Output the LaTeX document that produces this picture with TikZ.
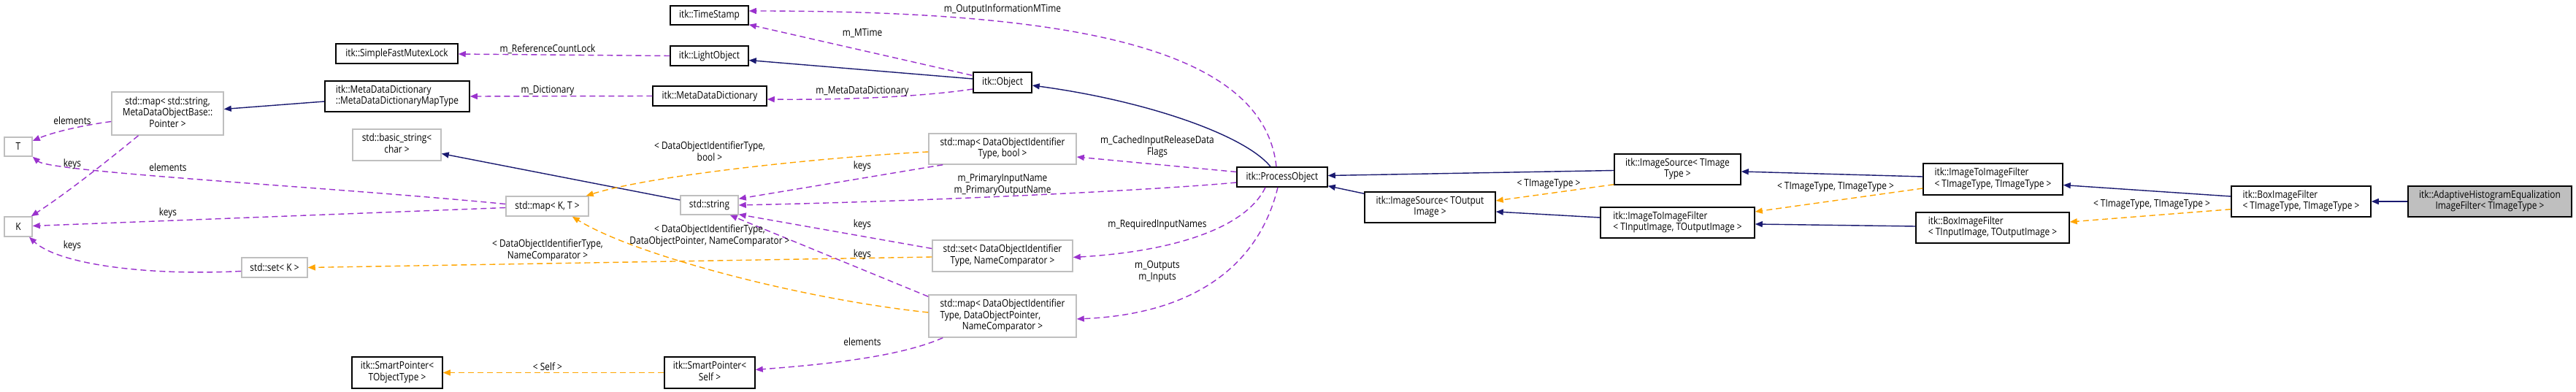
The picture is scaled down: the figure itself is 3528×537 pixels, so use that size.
\documentclass[tikz,border=0pt]{standalone}
\usepackage{fontspec}
\setmainfont[FakeStretch=0.85]{Open Sans}
\usetikzlibrary{arrows.meta,calc}
\definecolor{navy}{HTML}{191970}
\definecolor{purp}{HTML}{9A32CD}
\definecolor{orng}{HTML}{FFA500}
\definecolor{gry}{HTML}{BFBFBF}
\newcommand\ctab[1]{\begin{tabular}{@{}c@{}}#1\end{tabular}}
\newcommand\ltab[1]{\begin{tabular}{@{}l@{}}#1\end{tabular}}
\newcommand\mcc[1]{\multicolumn{1}{@{}c@{}}{#1}}
\begin{document}
\begin{tikzpicture}[x=1pt,y=-1pt,
  every node/.style={font=\fontsize{14}{15.5}\selectfont},
  doc/.style={draw=black, line width=1.5pt, fill=white, inner sep=0pt, rectangle},
  und/.style={draw=gry, line width=1.5pt, fill=white, inner sep=0pt, rectangle},
  lbl/.style={inner sep=0pt, align=center},
  inh/.style={draw=navy, line width=1.4pt, -{Triangle[length=10pt,width=8pt]}},
  use/.style={draw=purp, line width=1.4pt, dash pattern=on 8pt off 5pt, -{Triangle[length=10pt,width=8pt]}},
  tpl/.style={draw=orng, line width=1.4pt, dash pattern=on 8pt off 5pt, -{Triangle[length=10pt,width=8pt]}}]
\fill[white] (0,0) rectangle (3528,537);
\useasboundingbox (0,0) rectangle (3528,537);
% nodes
\node[doc, minimum width=167pt, minimum height=27pt] (sfml) at (543.5,73.5) {itk::SimpleFastMutexLock};
\node[doc, minimum width=198pt, minimum height=42pt] (mddmt) at (544,132) {\ltab{itk::MetaDataDictionary\\\mcc{::MetaDataDictionaryMapType}}};
\node[und, minimum width=153pt, minimum height=59pt] (mapSS) at (229.5,155.5) {\ctab{std::map< std::string,\\MetaDataObjectBase::\\Pointer >}};
\node[und, minimum width=38pt, minimum height=26pt] (T) at (25,201) {T};
\node[und, minimum width=38pt, minimum height=27pt] (K) at (25,310.5) {K};
\node[und, minimum width=121pt, minimum height=43pt] (bstr) at (543.5,198.5) {\ctab{std::basic\_string<\\char >}};
\node[und, minimum width=113pt, minimum height=27pt] (mapKT) at (749.5,282.5) {std::map< K, T >};
\node[und, minimum width=90pt, minimum height=27pt] (setK) at (376,366.5) {std::set< K >};
\node[doc, minimum width=124pt, minimum height=43pt] (spTO) at (544,510.5) {\ctab{itk::SmartPointer<\\TObjectType >}};
\node[doc, minimum width=107pt, minimum height=26pt] (ts) at (971.5,21) {itk::TimeStamp};
\node[doc, minimum width=107pt, minimum height=27pt] (lo) at (971.5,76.5) {itk::LightObject};
\node[doc, minimum width=156pt, minimum height=27pt] (mdd) at (972,131.5) {itk::MetaDataDictionary};
\node[doc, minimum width=80pt, minimum height=28pt] (obj) at (1373,113) {itk::Object};
\node[und, minimum width=202pt, minimum height=42pt] (mapB) at (1373,204) {\ctab{std::map< DataObjectIdentifier\\Type, bool >}};
\node[und, minimum width=79pt, minimum height=26pt] (str) at (971.5,281) {std::string};
\node[und, minimum width=192pt, minimum height=43pt] (setN) at (1373,350.5) {\ctab{std::set< DataObjectIdentifier\\Type, NameComparator >}};
\node[und, minimum width=202pt, minimum height=58pt] (mapP) at (1373,433) {\ltab{std::map< DataObjectIdentifier\\Type, DataObjectPointer,\\\mcc{NameComparator >}}};
\node[doc, minimum width=124pt, minimum height=43pt] (spS) at (972,510.5) {\ctab{itk::SmartPointer<\\Self >}};
\node[doc, minimum width=124pt, minimum height=27pt] (po) at (1756,242.5) {itk::ProcessObject};
\node[doc, minimum width=179pt, minimum height=42pt] (isO) at (1958.5,284) {\ctab{itk::ImageSource< TOutput\\Image >}};
\node[doc, minimum width=173pt, minimum height=42pt] (isT) at (2297.5,232) {\ctab{itk::ImageSource< TImage\\Type >}};
\node[doc, minimum width=211pt, minimum height=42pt] (itiIO) at (2297.5,305) {\ltab{itk::ImageToImageFilter\\< TInputImage, TOutputImage >}};
\node[doc, minimum width=191pt, minimum height=43pt] (itiT) at (2729.5,245.5) {\ltab{itk::ImageToImageFilter\\< TImageType, TImageType >}};
\node[doc, minimum width=210pt, minimum height=42pt] (bifIO) at (2729,312) {\ltab{itk::BoxImageFilter\\< TInputImage, TOutputImage >}};
\node[doc, minimum width=191pt, minimum height=42pt] (bifT) at (3151.5,276) {\ltab{itk::BoxImageFilter\\< TImageType, TImageType >}};
\node[doc, fill=gry, minimum width=224pt, minimum height=42pt] (ahe) at (3410,276) {\ctab{itk::AdaptiveHistogramEqualization\\ImageFilter< TImageType >}};
% inheritance
\draw[inh] ($(mddmt.west)+(0,7)$) -- ($(mapSS.east)+(0,-6)$);
\draw[inh] ($(str.west)+(0,-7)$) -- ($(bstr.east)+(0,12)$);
\draw[inh] ($(obj.west)+(0,-5)$) -- ($(lo.east)+(0,6)$);
\draw[inh] ($(po.north)+(-16,0)$) .. controls (1705,185) and (1570,138) .. ($(obj.east)+(0,4)$);
\draw[inh] ($(isT.west)+(0,1.5)$) -- ($(po.east)+(0,-2)$);
\draw[inh] ($(isO.north west)+(0,3)$) -- ($(po.south east)+(0,-2)$);
\draw[inh] ($(itiT.west)+(0,-3.5)$) -- ($(isT.east)+(0,3)$);
\draw[inh] ($(itiIO.west)+(0,-7)$) -- ($(isO.east)+(0,6)$);
\draw[inh] ($(bifIO.west)+(0,-2)$) -- ($(itiIO.east)+(0,2)$);
\draw[inh] ($(bifT.west)+(0,-7)$) -- ($(itiT.east)+(0,8)$);
\draw[inh] (ahe.west) -- (bifT.east);
% template instances
\draw[tpl] ($(isT.south west)+(0,-1)$) -- ($(isO.east)+(0,-9)$);
\draw[tpl] ($(itiT.west)+(0,12.5)$) -- ($(itiIO.east)+(0,-15)$);
\draw[tpl] ($(bifT.west)+(0,10.7)$) -- ($(bifIO.east)+(0,-8)$);
\draw[tpl] ($(mapB.west)+(0,4)$) .. controls (1150,214) and (900,238) .. ($(mapKT.north east)+(-4,0)$);
\draw[tpl] ($(mapP.west)+(0,-5)$) .. controls (1100,410) and (870,350) .. ($(mapKT.south east)+(-23,0)$);
\draw[tpl] ($(setN.west)+(0,1.5)$) -- (setK.east);
\draw[tpl] (spS.west) -- (spTO.east);
% usage
\draw[use] (lo.west) -- ($(sfml.east)+(0,0.5)$);
\draw[use] (mdd.west) -- (mddmt.east);
\draw[use] ($(obj.north west)+(-1,5)$) -- ($(ts.south east)+(0,-1)$);
\draw[use] ($(obj.west)+(0,9)$) .. controls (1260,133) and (1150,137) .. ($(mdd.east)+(0,4.5)$);
\draw[use] ($(po.north)+(-8,0)$) .. controls (1730,60) and (1450,15) .. ($(ts.east)+(0,-6)$);
\draw[use] ($(po.west)+(0,-7)$) -- ($(mapB.east)+(0,11)$);
\draw[use] ($(po.west)+(0,7.5)$) .. controls (1600,259) and (1300,275) .. (str.east);
\draw[use] ($(po.south)+(-23,0)$) .. controls (1705,315) and (1600,345) .. ($(setN.east)+(0,2)$);
\draw[use] ($(po.south)+(-6,0)$) .. controls (1725,360) and (1640,430) .. ($(mapP.east)+(0,4)$);
\draw[use] ($(mapB.south west)+(20,0)$) -- ($(str.north east)+(0,5)$);
\draw[use] ($(setN.west)+(0,-10)$) -- ($(str.south east)+(0,-1)$);
\draw[use] ($(mapP.north west)+(0,3)$) -- ($(str.south east)+(-12,0)$);
\draw[use] ($(mapP.south west)+(20,0)$) .. controls (1230,490) and (1120,500) .. ($(spS.east)+(0,-4)$);
\draw[use] ($(mapSS.west)+(0,11)$) .. controls (110,172) and (70,182) .. ($(T.east)+(0,-8)$);
\draw[use] ($(mapSS.south)+(-40,0)$) .. controls (150,218) and (95,262) .. ($(K.north east)+(-2,0)$);
\draw[use] ($(mapKT.west)+(0,-3)$) .. controls (450,256) and (70,236) .. (T.south east);
\draw[use] ($(mapKT.west)+(0,2)$) -- ($(K.east)+(0,-1)$);
\draw[use] ($(setK.west)+(0,5)$) .. controls (200,378) and (80,362) .. ($(K.south)+(15,0)$);
% labels
\node[lbl] (l1) at (750,67) {m\_ReferenceCountLock};
\node[lbl] (l2) at (750,124) {m\_Dictionary};
\node[lbl] (l3) at (1181,45) {m\_MTime};
\node[lbl] (l4) at (1181,125) {m\_MetaDataDictionary};
\node[lbl] (l5) at (1373,13) {m\_OutputInformationMTime};
\node[lbl] (l6) at (1585,201) {m\_CachedInputReleaseData\\Flags};
\node[lbl] (l7) at (1373,253) {m\_PrimaryInputName\\m\_PrimaryOutputName};
\node[lbl] (l8) at (1585,308) {m\_RequiredInputNames};
\node[lbl] (l9) at (1585,372) {m\_Outputs\\m\_Inputs};
\node[lbl] (l10) at (1181,228) {keys};
\node[lbl] (l11) at (1181,308) {keys};
\node[lbl] (l12) at (1181,349) {keys};
\node[lbl] (l13) at (1181,468) {elements};
\node[lbl] (l14) at (99,165) {elements};
\node[lbl] (l15) at (99,225) {keys};
\node[lbl] (l16) at (230,229) {elements};
\node[lbl] (l17) at (230,292) {keys};
\node[lbl] (l18) at (99,337) {keys};
\node[lbl] (l19) at (972,207) {< DataObjectIdentifierType,\\bool >};
\node[lbl] (l20) at (972,323) {< DataObjectIdentifierType,\\DataObjectPointer, NameComparator >};
\node[lbl] (l21) at (750,343) {< DataObjectIdentifierType,\\NameComparator >};
\node[lbl] (l22) at (750,502) {< Self >};
\node[lbl] (l23) at (2121,252) {< TImageType >};
\node[lbl] (l24) at (2514,256) {< TImageType, TImageType >};
\node[lbl] (l25) at (2947,280) {< TImageType, TImageType >};
\end{tikzpicture}
\end{document}
